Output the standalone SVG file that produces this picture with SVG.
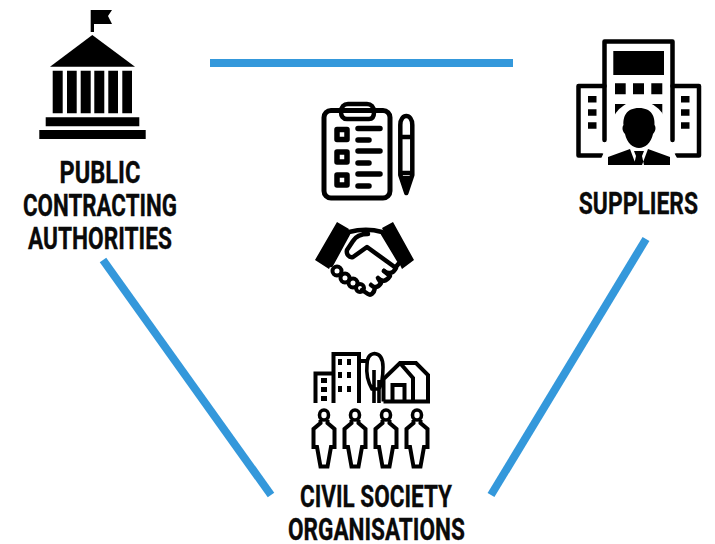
<svg xmlns="http://www.w3.org/2000/svg" width="715" height="544" viewBox="0 0 715 544">
<style>
.lbl{font-family:"Roboto","Liberation Sans",sans-serif;font-weight:700;font-size:31px;fill:#0a0a0a;stroke:#0a0a0a;stroke-width:.35}
.conn{stroke:#3498db;stroke-width:8;fill:none}
.o{fill:none;stroke:#000;stroke-width:4.500;stroke-linejoin:round;stroke-linecap:round}
.t{fill:none;stroke:#000;stroke-width:4;stroke-linejoin:miter}
</style>
<defs>
<g id="p"><ellipse class="t" style="stroke-width:3.600" cx="0" cy="415" rx="4.500" ry="5"/><path class="t" d="M-3.500 420V423L-10.500 429V447H-7L-3.500 466.500H3.500L7 447H10.500V429L3.500 423V420"/></g>
</defs>
<g id="connectors">
<line class="conn" x1="210" y1="63" x2="513" y2="63"/>
<line class="conn" x1="103" y1="260" x2="271" y2="495"/>
<line class="conn" x1="646" y1="239" x2="491" y2="495"/>
</g>
<g id="public-contracting-authorities">
<path d="M90.700 10H112L108 16L112 24H94V32H90.700Z"/>
<path d="M92.300 35L135 66.700H50Z"/>
<path d="M52.700 70.700h10v42.600h-10zM67 70.700h9.700v42.600H67zM80.700 70.700h10v42.600h-10zM94.300 70.700h10v42.600h-10zM108.300 70.700H118v42.600h-9.700zM122.300 70.700h9.700v42.600h-9.700zM45.700 117.300h93.600v9H45.700zM39.300 130h106.400v9H39.300z"/>
<text class="lbl" transform="scale(.8 1)" x="125" y="183" text-anchor="middle" textLength="101" lengthAdjust="spacingAndGlyphs">PUBLIC</text>
<text class="lbl" transform="scale(.8 1)" x="125" y="216" text-anchor="middle" textLength="192.500" lengthAdjust="spacingAndGlyphs">CONTRACTING</text>
<text class="lbl" transform="scale(.8 1)" x="125" y="249" text-anchor="middle" textLength="180" lengthAdjust="spacingAndGlyphs">AUTHORITIES</text>
</g>
<g id="suppliers">
<path class="o" d="M604.500 140V41.500H672.500V140"/>
<path class="o" d="M604.500 86H578.500V155.500H602M672.500 86H699V155.500H676"/>
<path d="M613.300 51h50.700v24h-50.700zM615 83.300h10.700v11H615zM633 83.300h11v11h-11zM651.300 83.300h11v11h-11zM615 104h10.700v11.700H615zM651.300 104h11v11.700h-11zM588 96h8.500v6.500H588zM588 109.300h8.500v6.500H588zM588 122.300h8.500v6.500H588zM681 96h8.500v6.500H681zM681 109.300h8.500v6.500H681zM681 122.300h8.500v6.500H681z"/>
<ellipse cx="639" cy="128" rx="28" ry="27" fill="#fff"/>
<path d="M600 168L606 155L622 148L632 147H646L656 148L672 155L679 168Z" fill="#fff" stroke="#fff" stroke-width="6"/>
<path d="M639 108C626 108 623 117 623.500 125C622 127 622 131 625 134C627 143 633 148 639 148C645 148 651 143 653 134C656 131 656 127 654.500 125C655 117 652 108 639 108Z"/>
<path d="M608 165V157L630 149L636 165ZM670 165V157L648 149L642 165ZM634 151H644L642 156L644 165H634L636 156Z"/>
<text class="lbl" transform="scale(.8 1)" x="798" y="214" text-anchor="middle" textLength="149" lengthAdjust="spacingAndGlyphs">SUPPLIERS</text>
</g>
<g id="procurement">
<rect class="o" style="stroke-width:5" x="324" y="110.500" width="66" height="87.500" rx="7"/>
<path class="o" d="M347 119H369C373 119 374 116 374 112C374 107 371 104 367 104H348C344 104 341 107 341 112C341 116 343 119 347 119Z" fill="#fff"/>
<path class="o" style="stroke-width:5.500" d="M337 129.500h10v10h-10zM337 152h10v10h-10zM337 175h10v10h-10z"/>
<path class="o" style="stroke-width:5.500" d="M358 128.500H380M358 140H369M358 151H380M358 163H369M358 174H380M358 186H369"/>
<path class="o" d="M400.300 125C400.300 113 412.300 113 412.300 125V175L406.300 193L400.300 175ZM400.300 137H412.300M400.300 173H412.300"/>
<path d="M402 176H410.500L406.300 192Z"/>
</g>
<g id="handshake">
<path d="M315 260L337 222L349 229L329 269ZM382 228L393 222L414 260L402 269Z"/>
<path class="o" d="M349 232C360 229 372 229 382 232L400 262L395 268M368 234C361 234 356 236 353 241L347 250C346 254 349 258 353 257L367 247L396 268C393 274 388 274 384 271M349 232L331 265"/>
<path class="o" d="M384 271L390 276C386 282 382 282 378 278M378 278L381 283C378 288 374 288 371 285M371 285L375 288C374 293 371 296 368 294L362 290"/>
<g fill="#fff"><circle class="o" style="stroke-width:4" cx="337" cy="271" r="4.500"/><circle class="o" style="stroke-width:4" cx="345" cy="278" r="4.500"/><circle class="o" style="stroke-width:4" cx="353" cy="283" r="4.500"/><circle class="o" style="stroke-width:4" cx="360" cy="288" r="4"/></g>
</g>
<g id="civil-society-organisations">
<path class="t" d="M315.500 403V373.500H331.700M333.500 403V354H359V403M359 361H368"/>
<path d="M321 378h6v5h-6zM321 387h6v5h-6zM321 396h6v5h-6zM338 359h4v6h-4zM347 359h4v6h-4zM338 372h4v6h-4zM347 372h4v6h-4zM338 386h4v6h-4zM347 386h4v6h-4z"/>
<path class="t" style="stroke-width:3.600" d="M374.500 353.500C369 354 367 359 367 365C366 374 368 382 372 389H379C382 384 383 374 383 367C383 358 380 354 374.500 353.500ZM374 370V403M379 380V403"/>
<path class="t" d="M383.500 401.500H428V375L416 363H400L383.500 379V401.500M400 363L413 378V401.500M392.500 401.500V385H404.500V401.500"/>
<use href="#p" x="324"/>
<use href="#p" x="355"/>
<use href="#p" x="386"/>
<use href="#p" x="417"/>
<text class="lbl" transform="scale(.8 1)" x="470" y="507" text-anchor="middle" textLength="190" lengthAdjust="spacingAndGlyphs">CIVIL SOCIETY</text>
<text class="lbl" transform="scale(.8 1)" x="470.500" y="540" text-anchor="middle" textLength="221" lengthAdjust="spacingAndGlyphs">ORGANISATIONS</text>
</g>
</svg>
